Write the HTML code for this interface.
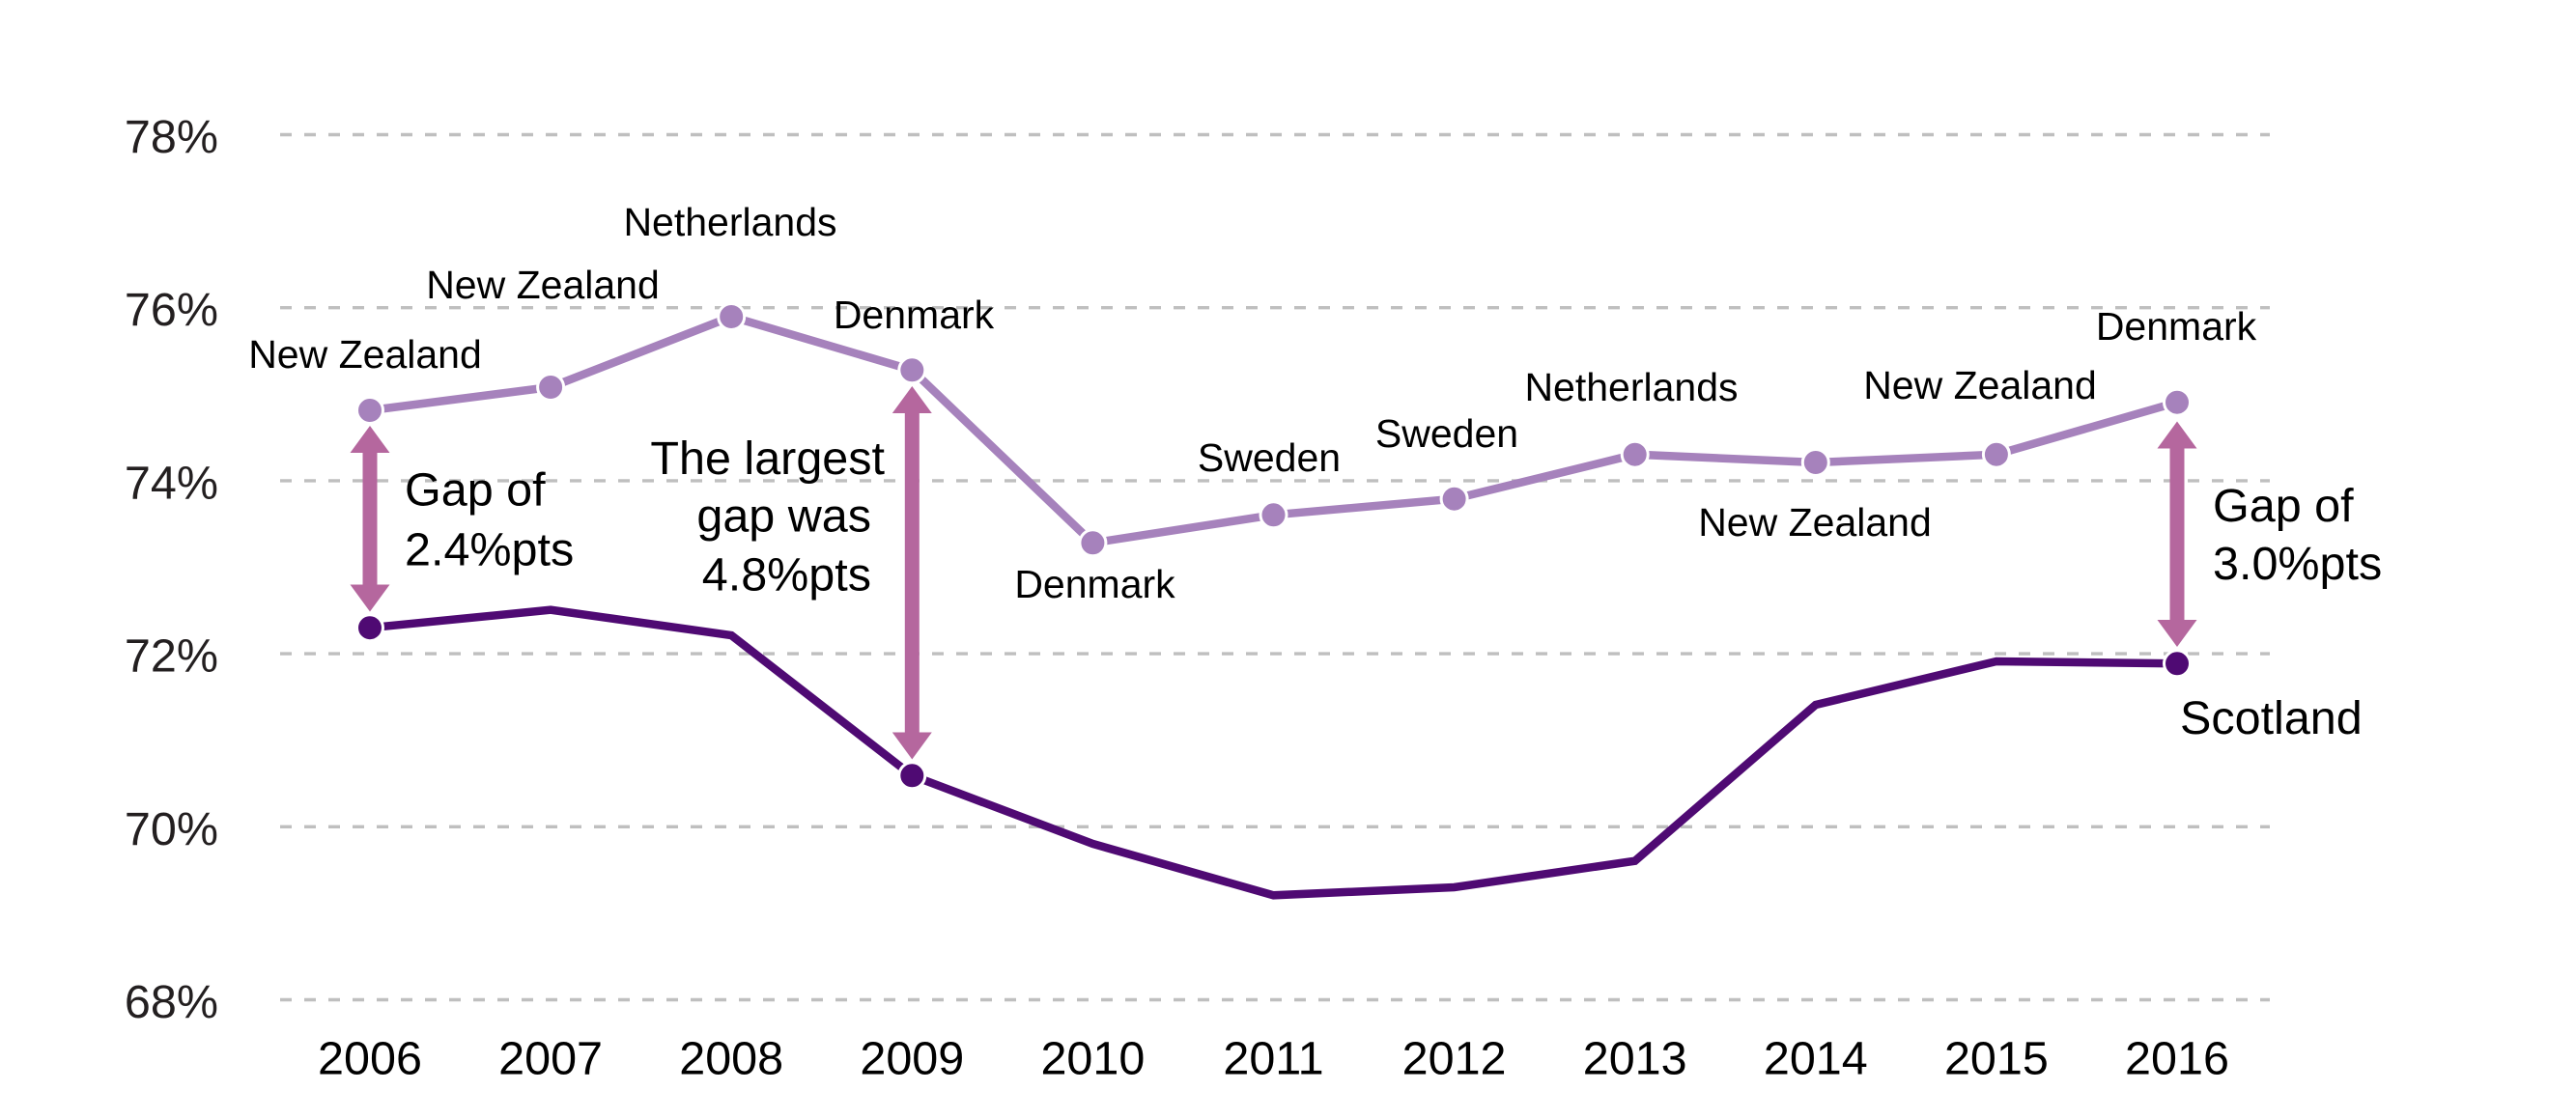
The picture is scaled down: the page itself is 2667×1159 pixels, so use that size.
<!DOCTYPE html>
<html>
<head>
<meta charset="utf-8">
<style>
  html, body { margin: 0; padding: 0; background: #ffffff; }
  svg { display: block; }
  text { font-family: "Liberation Sans", Arial, sans-serif; }
</style>
</head>
<body>
<svg width="2667" height="1159" viewBox="0 0 2667 1159" xmlns="http://www.w3.org/2000/svg">
  <rect x="0" y="0" width="2667" height="1159" fill="#ffffff"/>

  <!-- gridlines -->
  <g stroke="#bfbfbf" stroke-width="3.4" stroke-dasharray="12 13" fill="none">
    <line x1="290" y1="139.5" x2="2350" y2="139.5"/>
    <line x1="290" y1="318.7" x2="2350" y2="318.7"/>
    <line x1="290" y1="497.9" x2="2350" y2="497.9"/>
    <line x1="290" y1="677.1" x2="2350" y2="677.1"/>
    <line x1="290" y1="856.3" x2="2350" y2="856.3"/>
    <line x1="290" y1="1035.5" x2="2350" y2="1035.5"/>
  </g>

  <!-- y axis labels -->
  <g font-size="48.5" fill="#231f20" text-anchor="end">
    <text x="226" y="158">78%</text>
    <text x="226" y="337.2">76%</text>
    <text x="226" y="516.4">74%</text>
    <text x="226" y="695.6">72%</text>
    <text x="226" y="874.8">70%</text>
    <text x="226" y="1054">68%</text>
  </g>

  <!-- x axis labels -->
  <g font-size="48.5" fill="#000000" text-anchor="middle">
    <text x="383" y="1112.5">2006</text>
    <text x="570.1" y="1112.5">2007</text>
    <text x="757.2" y="1112.5">2008</text>
    <text x="944.3" y="1112.5">2009</text>
    <text x="1131.4" y="1112.5">2010</text>
    <text x="1318.5" y="1112.5">2011</text>
    <text x="1505.6" y="1112.5">2012</text>
    <text x="1692.7" y="1112.5">2013</text>
    <text x="1879.8" y="1112.5">2014</text>
    <text x="2066.9" y="1112.5">2015</text>
    <text x="2254" y="1112.5">2016</text>
  </g>

  <!-- Scotland line -->
  <polyline fill="none" stroke="#4f0a73" stroke-width="8.5" stroke-linejoin="miter"
    points="383,650.2 570.1,631.7 757.2,658 944.3,803.3 1131.4,874 1318.5,927.3 1505.6,919 1692.7,891.7 1879.8,730 2066.9,685 2254,687.3"/>

  <!-- Best performer line -->
  <polyline fill="none" stroke="#a682bc" stroke-width="8.5" stroke-linejoin="miter"
    points="383,425 570.1,401 757.2,328 944.3,383.3 1131.4,562.3 1318.5,533.3 1505.6,516.7 1692.7,470.7 1879.8,479 2066.9,470.7 2254,416.7"/>

  <!-- light markers -->
  <g fill="#a682bc" stroke="#ffffff" stroke-width="3">
    <circle cx="383" cy="425" r="13.5"/>
    <circle cx="570.1" cy="401" r="13.5"/>
    <circle cx="757.2" cy="328" r="13.5"/>
    <circle cx="944.3" cy="383.3" r="13.5"/>
    <circle cx="1131.4" cy="562.3" r="13.5"/>
    <circle cx="1318.5" cy="533.3" r="13.5"/>
    <circle cx="1505.6" cy="516.7" r="13.5"/>
    <circle cx="1692.7" cy="470.7" r="13.5"/>
    <circle cx="1879.8" cy="479" r="13.5"/>
    <circle cx="2066.9" cy="470.7" r="13.5"/>
    <circle cx="2254" cy="416.7" r="13.5"/>
  </g>

  <!-- dark markers -->
  <g fill="#4f0a73" stroke="#ffffff" stroke-width="3">
    <circle cx="383" cy="650.2" r="13.5"/>
    <circle cx="944.3" cy="803.3" r="13.5"/>
    <circle cx="2254" cy="687.3" r="13.5"/>
  </g>

  <!-- gap arrows -->
  <g fill="#b5679e">
    <!-- 2006 -->
    <polygon points="383,441 403.5,469 390.5,469 390.5,605.5 403.5,605.5 383,633.5 362.5,605.5 375.5,605.5 375.5,469 362.5,469"/>
    <!-- 2009 -->
    <polygon points="944.3,400 964.8,428 951.8,428 951.8,758.5 964.8,758.5 944.3,786.5 923.8,758.5 936.8,758.5 936.8,428 923.8,428"/>
    <!-- 2016 -->
    <polygon points="2254,436.5 2274.5,464.5 2261.5,464.5 2261.5,642 2274.5,642 2254,670 2233.5,642 2246.5,642 2246.5,464.5 2233.5,464.5"/>
  </g>

  <!-- country labels -->
  <g font-size="41" fill="#000000" text-anchor="middle">
    <text x="378" y="381">New Zealand</text>
    <text x="562" y="309">New Zealand</text>
    <text x="756" y="244">Netherlands</text>
    <text x="946" y="340">Denmark</text>
    <text x="1133.5" y="619">Denmark</text>
    <text x="1314" y="488">Sweden</text>
    <text x="1498" y="463">Sweden</text>
    <text x="1689" y="415">Netherlands</text>
    <text x="1879" y="555">New Zealand</text>
    <text x="2050" y="413">New Zealand</text>
    <text x="2253" y="352">Denmark</text>
  </g>

  <!-- annotations -->
  <g font-size="48.5" fill="#000000">
    <text x="419" y="523.5">Gap of</text>
    <text x="419" y="585.5">2.4%pts</text>

    <text x="916" y="491" text-anchor="end">The largest</text>
    <text x="902" y="550.5" text-anchor="end">gap was</text>
    <text x="902" y="611.5" text-anchor="end">4.8%pts</text>

    <text x="2291" y="540">Gap of</text>
    <text x="2291" y="600">3.0%pts</text>

    <text x="2257" y="760">Scotland</text>
  </g>
</svg>
</body>
</html>
